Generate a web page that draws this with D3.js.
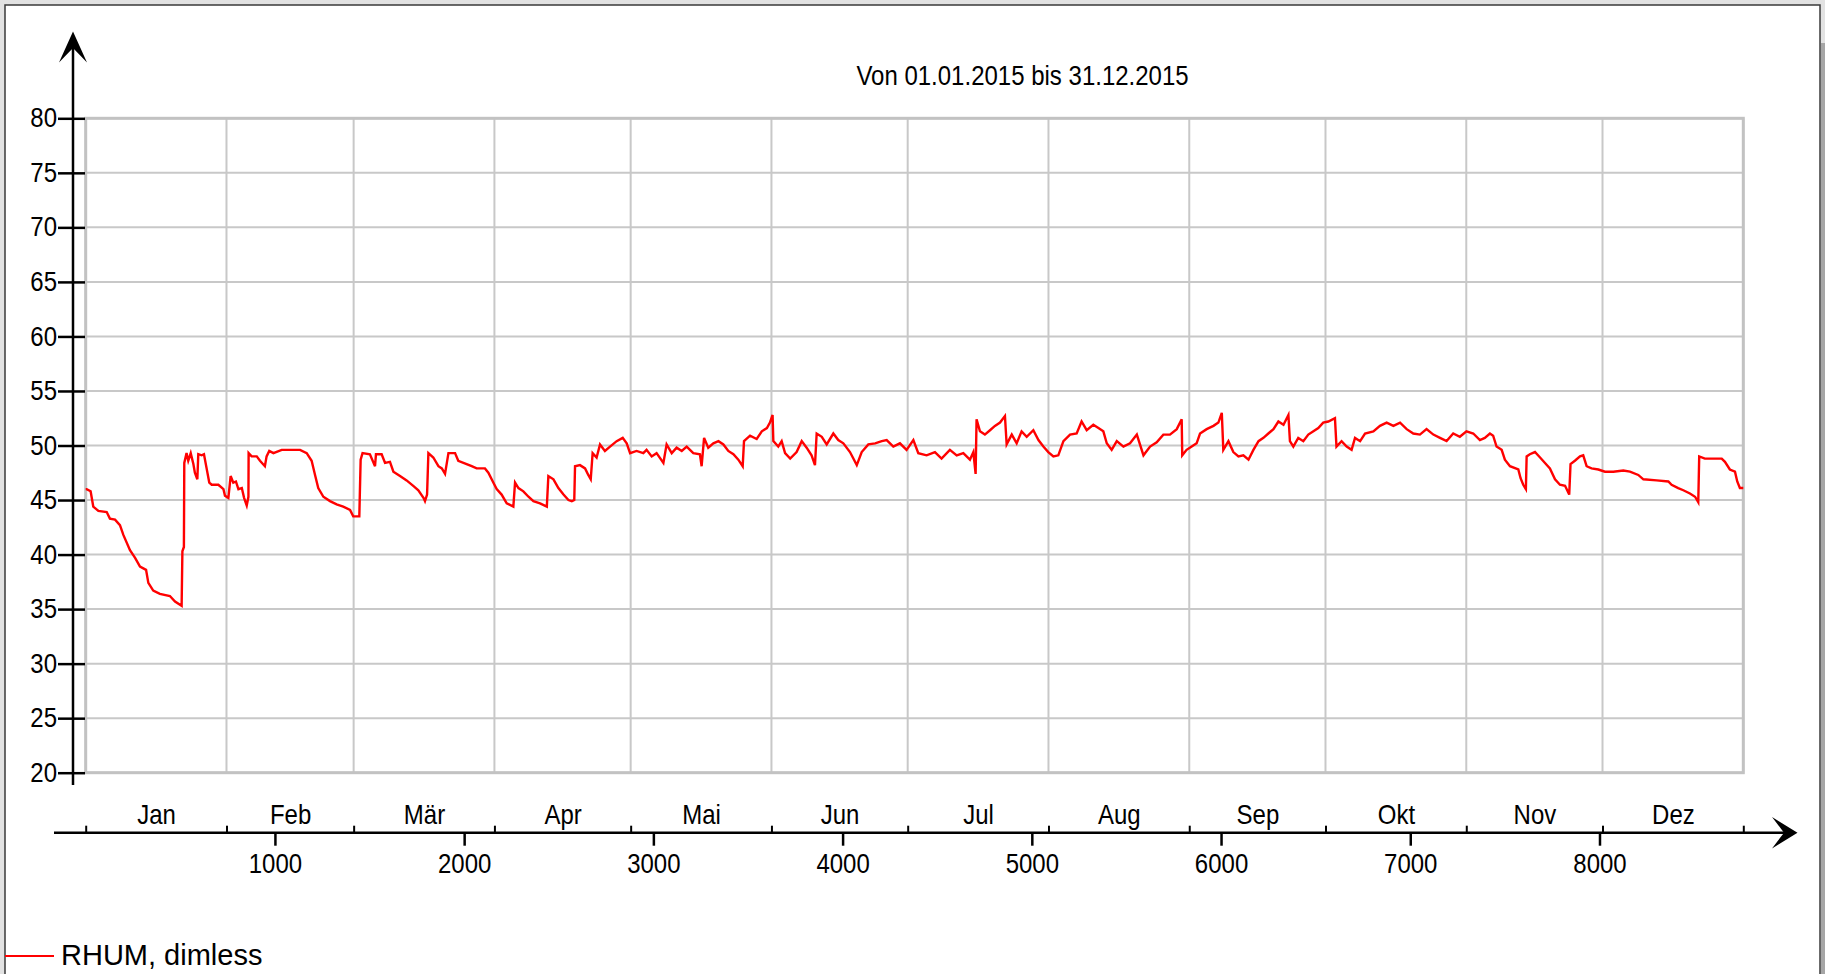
<!DOCTYPE html>
<html lang="de">
<head>
  <meta charset="UTF-8">
  <title>RHUM 2015</title>
  <style>
    body {
      margin: 0;
      background: #e2e2e2;
      overflow: hidden;
    }
    svg {
      font-family: 'Liberation Sans', Arial, sans-serif;
      display: block;
    }
    .grid line {
      stroke: #c8c8c8;
      stroke-width: 2px;
    }
    .axis text {
      font-size: 24px;
      fill: #000;
    }
    .axis line {
      stroke: #000;
    }
  </style>
</head>
<body>
  <svg width="1825" height="974"></svg>

  <script src="https://d3js.org/d3.v7.min.js"></script>
  <script>
    // hour of year / relative humidity
    var hours = [
      0, 5, 26, 40, 67, 111, 128, 155, 181, 199, 234, 261, 287, 319, 331, 357, 392, 445, 472, 507,
      511, 519, 521, 533, 542, 555, 569, 577, 590, 595, 613, 625, 639, 653, 666, 701, 728, 736, 754, 766,
      780, 794, 807, 825, 837, 851, 860, 861, 877, 904, 921, 947, 956, 970, 992, 1036, 1133, 1168, 1194, 1212,
      1229, 1256, 1291, 1326, 1361, 1397, 1414, 1446, 1453, 1463, 1502, 1529, 1534, 1564, 1582, 1608, 1626, 1661, 1696, 1731,
      1758, 1785, 1793, 1804, 1811, 1837, 1864, 1882, 1899, 1917, 1952, 1969, 2013, 2040, 2066, 2110, 2128, 2154, 2172, 2198,
      2225, 2260, 2269, 2287, 2313, 2340, 2366, 2401, 2437, 2445, 2472, 2498, 2525, 2551, 2569, 2582, 2586, 2612, 2639, 2656,
      2669, 2679, 2700, 2718, 2744, 2771, 2806, 2838, 2859, 2877, 2911, 2947, 2964, 2991, 3017, 3053, 3070, 3097, 3123, 3150,
      3176, 3211, 3246, 3255, 3268, 3290, 3317, 3344, 3370, 3396, 3423, 3449, 3472, 3479, 3511, 3546, 3573, 3600, 3616, 3630,
      3634, 3660, 3678, 3696, 3723, 3757, 3784, 3810, 3836, 3854, 3863, 3890, 3916, 3951, 3977, 4004, 4039, 4075, 4101, 4136,
      4172, 4207, 4233, 4268, 4303, 4338, 4374, 4400, 4444, 4488, 4523, 4567, 4603, 4638, 4673, 4691, 4703, 4708, 4726, 4752,
      4779, 4805, 4832, 4858, 4867, 4894, 4920, 4946, 4973, 5008, 5035, 5061, 5087, 5114, 5140, 5167, 5202, 5237, 5263, 5290,
      5325, 5352, 5378, 5396, 5422, 5449, 5484, 5519, 5555, 5590, 5625, 5660, 5695, 5730, 5766, 5792, 5795, 5818, 5845, 5871,
      5889, 5924, 5960, 5986, 6004, 6012, 6039, 6065, 6092, 6118, 6145, 6171, 6198, 6224, 6250, 6277, 6303, 6330, 6356, 6364,
      6382, 6408, 6435, 6461, 6488, 6514, 6540, 6567, 6602, 6610, 6637, 6664, 6690, 6708, 6735, 6761, 6805, 6840, 6875, 6911,
      6946, 6981, 7016, 7051, 7086, 7122, 7157, 7192, 7227, 7262, 7297, 7333, 7368, 7394, 7421, 7438, 7456, 7483, 7500, 7527,
      7571, 7583, 7597, 7611, 7615, 7632, 7659, 7686, 7712, 7738, 7765, 7791, 7818, 7840, 7847, 7870, 7897, 7914, 7932, 7958,
      7994, 8029, 8073, 8126, 8161, 8205, 8232, 8302, 8364, 8381, 8416, 8443, 8478, 8505, 8522, 8527, 8557, 8601, 8646, 8663,
      8689, 8716, 8728, 8742, 8760
    ];
    var rhum = [
      46.0, 46.0, 45.8, 44.4, 44.0, 43.9, 43.3, 43.2, 42.7, 41.8, 40.4, 39.7, 38.9, 38.6, 37.4, 36.7, 36.4, 36.2, 35.7, 35.3,
      40.3, 40.7, 48.4, 49.3, 48.6, 49.3, 48.3, 47.5, 46.9, 49.2, 49.1, 49.2, 47.9, 46.6, 46.4, 46.4, 46.0, 45.4, 45.2, 47.2,
      46.6, 46.7, 46.0, 46.1, 45.2, 44.5, 45.3, 49.3, 49.0, 49.0, 48.6, 48.1, 49.0, 49.5, 49.3, 49.6, 49.6, 49.3, 48.6, 47.3,
      46.1, 45.3, 44.9, 44.6, 44.4, 44.1, 43.5, 43.5, 48.7, 49.3, 49.2, 48.1, 49.2, 49.2, 48.4, 48.5, 47.6, 47.2, 46.8, 46.3,
      45.9, 45.2, 44.9, 45.5, 49.3, 48.9, 48.1, 47.9, 47.4, 49.3, 49.3, 48.6, 48.3, 48.1, 47.9, 47.9, 47.5, 46.6, 46.0, 45.5,
      44.7, 44.4, 46.6, 46.1, 45.8, 45.3, 44.9, 44.7, 44.4, 47.2, 46.9, 46.1, 45.5, 45.0, 44.9, 45.0, 48.1, 48.2, 47.9, 47.3,
      46.9, 49.3, 48.9, 50.1, 49.5, 49.9, 50.4, 50.7, 50.2, 49.3, 49.5, 49.3, 49.6, 49.0, 49.3, 48.4, 50.1, 49.3, 49.8, 49.5,
      49.9, 49.3, 49.2, 48.1, 50.7, 49.8, 50.2, 50.4, 50.1, 49.5, 49.2, 48.7, 48.1, 50.4, 50.9, 50.6, 51.3, 51.6, 52.1, 52.8,
      50.4, 49.9, 50.4, 49.3, 48.8, 49.4, 50.4, 49.8, 49.1, 48.2, 51.1, 50.8, 50.1, 51.1, 50.5, 50.2, 49.4, 48.2, 49.4, 50.1,
      50.2, 50.4, 50.5, 49.9, 50.2, 49.6, 50.5, 49.3, 49.1, 49.4, 48.8, 49.6, 49.1, 49.3, 48.7, 49.4, 47.4, 52.4, 51.3, 51.0,
      51.4, 51.8, 52.1, 52.7, 50.1, 51.0, 50.2, 51.3, 50.8, 51.4, 50.5, 49.9, 49.4, 49.0, 49.1, 50.4, 51.0, 51.1, 52.2, 51.4,
      51.9, 51.6, 51.3, 50.2, 49.6, 50.4, 49.9, 50.2, 51.0, 49.1, 49.9, 50.3, 51.0, 51.0, 51.5, 52.4, 49.1, 49.6, 49.9, 50.2,
      51.1, 51.5, 51.8, 52.1, 53.0, 49.6, 50.4, 49.4, 49.0, 49.1, 48.7, 49.6, 50.4, 50.7, 51.1, 51.5, 52.2, 51.9, 52.8, 50.4,
      49.9, 50.7, 50.4, 51.0, 51.3, 51.6, 52.1, 52.2, 52.5, 49.9, 50.4, 49.9, 49.6, 50.7, 50.4, 51.1, 51.3, 51.8, 52.1, 51.8,
      52.1, 51.5, 51.1, 51.0, 51.5, 51.0, 50.7, 50.4, 51.1, 50.8, 51.3, 51.1, 50.5, 50.7, 51.1, 50.9, 49.9, 49.6, 48.7, 48.1,
      47.8, 47.0, 46.4, 46.0, 49.0, 49.2, 49.4, 48.9, 48.4, 47.9, 46.9, 46.4, 46.3, 45.5, 48.3, 48.6, 49.0, 49.1, 48.1, 47.9,
      47.8, 47.6, 47.6, 47.7, 47.6, 47.3, 46.9, 46.8, 46.7, 46.4, 46.1, 45.9, 45.6, 45.3, 44.8, 49.0, 48.8, 48.8, 48.8, 48.5,
      47.8, 47.6, 46.7, 46.1, 46.1
    ];

    var months = ["Jan", "Feb", "Mär", "Apr", "Mai", "Jun", "Jul", "Aug", "Sep", "Okt", "Nov", "Dez"];
    var monthEdges = [0, 744, 1416, 2160, 2880, 3624, 4344, 5088, 5832, 6552, 7296, 8016, 8760];
    var yTicks = [20, 25, 30, 35, 40, 45, 50, 55, 60, 65, 70, 75, 80];
    var xTicks = [1000, 2000, 3000, 4000, 5000, 6000, 7000, 8000];
    var title = "Von 01.01.2015 bis 31.12.2015";
    var seriesName = "RHUM, dimless";

    var svg = d3.select("svg");
    var plotLeft = 85.7, plotRight = 1743.3, plotTop = 118.3, plotBottom = 772.7;
    var axisX = 73, axisY = 832.7;
    var stretch = "scale(1,1.12)";

    var x = d3.scaleLinear().domain([0, 8760]).range([plotLeft, plotRight]);
    var y = d3.scaleLinear().domain([20, 80]).range([plotBottom, plotTop]);

    // window frame
    svg.append("rect")
      .attr("x", 5).attr("y", 5).attr("width", 1815).attr("height", 980)
      .attr("fill", "#fff").attr("stroke", "#3a3a3a").attr("stroke-width", 1.5);
    svg.append("rect")
      .attr("x", 1821).attr("y", 43).attr("width", 4).attr("height", 931)
      .attr("fill", "#a6a6a6");

    // grid
    var grid = svg.append("g").attr("class", "grid");
    grid.selectAll(".h").data(yTicks).enter().append("line")
      .attr("x1", plotLeft).attr("x2", plotRight)
      .attr("y1", function(d) { return y(d); })
      .attr("y2", function(d) { return y(d); });
    grid.selectAll(".v").data(monthEdges).enter().append("line")
      .attr("y1", plotTop).attr("y2", plotBottom)
      .attr("x1", function(d) { return x(d); })
      .attr("x2", function(d) { return x(d); });
    svg.append("rect")
      .attr("x", plotLeft).attr("y", plotTop)
      .attr("width", plotRight - plotLeft).attr("height", plotBottom - plotTop)
      .attr("fill", "none").attr("stroke", "#c2c2c2").attr("stroke-width", 3);

    // y axis
    var yAxis = svg.append("g")
      .attr("class", "axis")
      .attr("transform", "translate(" + axisX + ",0)")
      .call(d3.axisLeft(y).tickValues(yTicks).tickSize(15).tickSizeOuter(0).tickPadding(1));
    yAxis.select(".domain").remove();
    yAxis.selectAll(".tick line").attr("x1", 12).attr("stroke-width", 2.5);
    yAxis.selectAll(".tick text")
      .attr("font-family", null).attr("font-size", null)
      .attr("transform", stretch);
    yAxis.append("line")
      .attr("x1", 0).attr("x2", 0).attr("y1", 45).attr("y2", 785)
      .attr("stroke-width", 2.5);
    svg.append("path")
      .attr("d", "M73,31.5L59,62.5L73,48L87,62.5Z")
      .attr("fill", "#000");

    // x axis: month boundaries and labels above, hour numbers below
    var xg = svg.append("g")
      .attr("class", "axis")
      .attr("transform", "translate(0," + axisY + ")");

    var edgeAxis = xg.append("g")
      .call(d3.axisTop(x).tickValues(monthEdges).tickSize(7).tickSizeOuter(0).tickFormat(""));
    edgeAxis.select(".domain").remove();
    edgeAxis.selectAll(".tick line").attr("stroke-width", 2);

    var mids = months.map(function(m, i) { return (monthEdges[i] + monthEdges[i + 1]) / 2; });
    var monthAxis = xg.append("g")
      .call(d3.axisTop(x).tickValues(mids).tickSize(0)
        .tickFormat(function(d, i) { return months[i]; }));
    monthAxis.select(".domain").remove();
    monthAxis.selectAll(".tick text")
      .attr("font-family", null).attr("font-size", null)
      .attr("y", null).attr("dy", null)
      .attr("transform", "translate(0,-9) " + stretch);

    var numAxis = xg.append("g")
      .call(d3.axisBottom(x).tickValues(xTicks).tickSize(13).tickSizeOuter(0).tickFormat(d3.format("d")));
    numAxis.select(".domain").remove();
    numAxis.selectAll(".tick line").attr("stroke-width", 2.5);
    numAxis.selectAll(".tick text")
      .attr("font-family", null).attr("font-size", null)
      .attr("y", null).attr("dy", null)
      .attr("transform", "translate(0,40) " + stretch);

    xg.append("line")
      .attr("x1", 54).attr("x2", 1785).attr("y1", 0).attr("y2", 0)
      .attr("stroke-width", 2.5);
    svg.append("path")
      .attr("d", "M1797.5,832.7L1772,817L1784,832.7L1772,848.5Z")
      .attr("fill", "#000");

    // series
    var line = d3.line()
      .x(function(d, i) { return x(hours[i]); })
      .y(function(d) { return y(d); });
    svg.append("path")
      .datum(rhum)
      .attr("d", line)
      .attr("fill", "none")
      .attr("stroke", "#ff0000")
      .attr("stroke-width", 2.4)
      .attr("stroke-linejoin", "miter");

    // title
    svg.append("text")
      .attr("transform", "translate(1022.5,85) scale(1,1.15)")
      .attr("text-anchor", "middle")
      .attr("font-size", 24)
      .text(title);

    // legend
    svg.append("line")
      .attr("x1", 5).attr("x2", 54).attr("y1", 956).attr("y2", 956)
      .attr("stroke", "#ff0000").attr("stroke-width", 2);
    svg.append("text")
      .attr("x", 61).attr("y", 965)
      .attr("font-size", 29)
      .text(seriesName);
  </script>
</body>
</html>
